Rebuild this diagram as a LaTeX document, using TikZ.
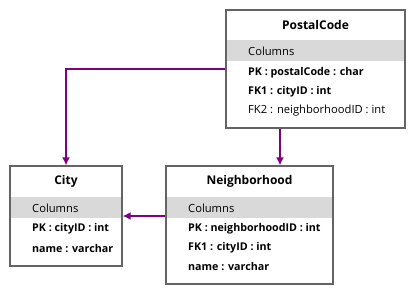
\documentclass[tikz,border=0pt]{standalone}
\usepackage{fontspec}
\setmainfont{Open Sans}
\usetikzlibrary{arrows.meta}
\definecolor{linkpurple}{RGB}{128,0,128}
\definecolor{bandgray}{RGB}{217,217,217}
\definecolor{boxedge}{RGB}{100,100,100}

\begin{document}
\begin{tikzpicture}[x=1pt, y=-1pt,
    table/.style={draw=boxedge, line width=1.2pt, fill=white, inner sep=0pt},
    title/.style={font=\fontsize{12}{14}\selectfont\bfseries},
    row/.style={anchor=west, inner sep=0pt, font=\fontsize{11.2}{13}\selectfont},
    keyrow/.style={row, font=\fontsize{10.7}{13}\selectfont\bfseries},
    band/.style={fill=bandgray, draw=none},
    conn/.style={draw=linkpurple, line width=2pt, -{Latex[length=8pt, width=8pt]}}]
  \useasboundingbox (0,0) rectangle (414,293);

  % Draw the tables
  \node[table, minimum width=179pt, minimum height=118pt] (postal) at (315.5,69) {};
  \node[table, minimum width=112pt, minimum height=100pt] (city) at (66,216) {};
  \node[table, minimum width=167pt, minimum height=118pt] (nbh) at (249.5,225) {};

  % Draw the column bands
  \fill[band] (227,40) rectangle (404,61);
  \fill[band] (11,197) rectangle (121,218);
  \fill[band] (167,197) rectangle (332,218);

  % PostalCode table
  \node[title] (postal-title) at (315.5,25) {PostalCode};
  \node[row] (postal-cols) at (248,51) {Columns};
  \node[keyrow] (postal-pk) at (248,73) {PK : postalCode : char};
  \node[keyrow] (postal-fk1) at (248,92) {FK1 : cityID : int};
  \node[row] (postal-fk2) at (248,111) {FK2 : neighborhoodID : int};

  % City table
  \node[title] (city-title) at (66,181) {City};
  \node[row] (city-cols) at (32,208) {Columns};
  \node[keyrow] (city-pk) at (32,229) {PK : cityID : int};
  \node[keyrow] (city-name) at (32,248) {name : varchar};

  % Neighborhood table
  \node[title] (nbh-title) at (249.5,181) {Neighborhood};
  \node[row] (nbh-cols) at (188,208) {Columns};
  \node[keyrow] (nbh-pk) at (188,229) {PK : neighborhoodID : int};
  \node[keyrow] (nbh-fk1) at (188,248) {FK1 : cityID : int};
  \node[keyrow] (nbh-name) at (188,266) {name : varchar};

  % Draw the references
  \draw[conn] (postal.west) -| (city.north);
  \draw[conn] ([xshift=-35.5pt]postal.south) -- ([xshift=-35.5pt]postal.south |- nbh.north);
  \draw[conn] (nbh.west |- city.east) -- (city.east);
\end{tikzpicture}
\end{document}
